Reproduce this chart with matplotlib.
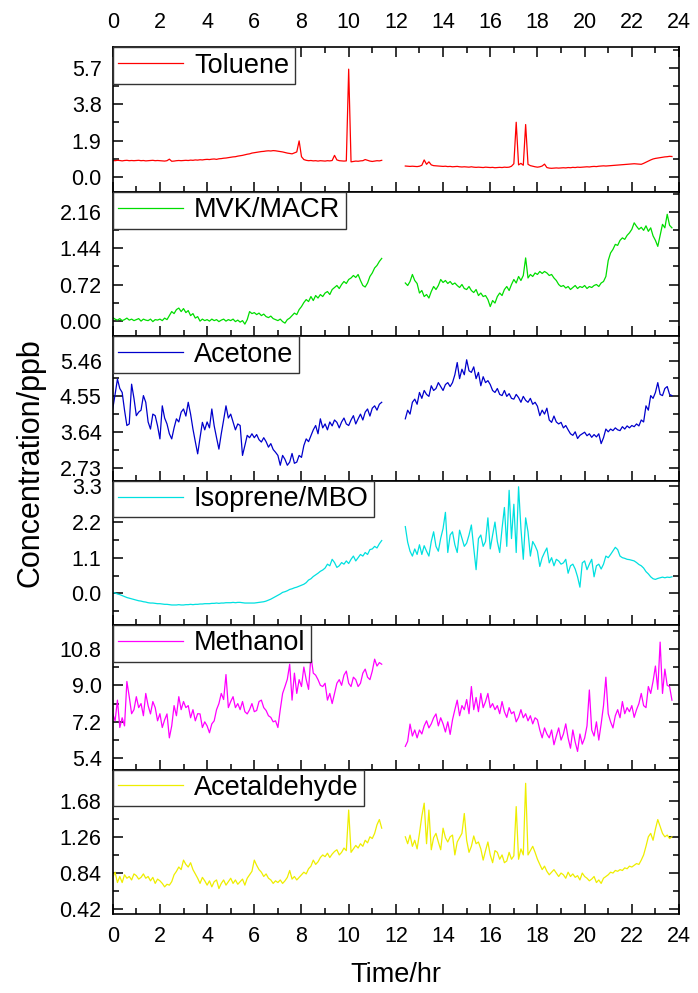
import numpy as np
import matplotlib.pyplot as plt
from matplotlib.ticker import MultipleLocator, FormatStrFormatter

plt.rcParams['font.family'] = ['Liberation Sans', 'DejaVu Sans']

# concentrations (ppb), one sample every 0.1 h, one row per hour
# morning run starts at 0.0 h, afternoon run starts at 12.4 h
toluene_am = [
    0.85, 0.84, 0.86, 0.85, 0.83, 0.85, 0.86, 0.84, 0.85, 0.84,
    0.85, 0.86, 0.84, 0.85, 0.83, 0.84, 0.85, 0.86, 0.84, 0.85,
    0.84, 0.83, 0.82, 0.84, 0.92, 0.81, 0.82, 0.84, 0.85, 0.84,
    0.85, 0.86, 0.85, 0.87, 0.86, 0.88, 0.87, 0.89, 0.88, 0.90,
    0.91, 0.90, 0.92, 0.93, 0.91, 0.94, 0.95, 0.97, 0.98, 1.00,
    1.02, 1.04, 1.05, 1.08, 1.10, 1.12, 1.15, 1.18, 1.20, 1.24,
    1.26, 1.28, 1.30, 1.32, 1.33, 1.35, 1.36, 1.35, 1.37, 1.36,
    1.34, 1.32, 1.30, 1.27, 1.24, 1.22, 1.20, 1.25, 1.30, 1.88,
    1.05, 0.90, 0.86, 0.84, 0.85, 0.83, 0.84, 0.82, 0.84, 0.83,
    0.82, 0.84, 0.83, 0.85, 1.12, 0.88, 0.84, 0.83, 0.82, 0.83,
    5.65, 0.78, 0.80, 0.82, 0.81, 0.83, 0.84, 0.90, 0.86, 0.82,
    0.80, 0.82, 0.84, 0.83, 0.86]
toluene_pm = [
    0.56, 0.55, 0.54, 0.55, 0.54, 0.53,
    0.55, 0.60, 0.88, 0.65, 0.78, 0.62, 0.58, 0.57, 0.56, 0.55,
    0.54, 0.55, 0.53, 0.54, 0.52, 0.53, 0.54, 0.52, 0.51, 0.52,
    0.51, 0.50, 0.52, 0.50, 0.49, 0.50, 0.49, 0.48, 0.50, 0.49,
    0.48, 0.49, 0.47, 0.48, 0.49, 0.48, 0.50, 0.49, 0.50, 0.55,
    0.68, 2.86, 0.62, 0.70, 0.60, 2.74, 0.65, 0.58, 0.55, 0.52,
    0.50, 0.52, 0.56, 0.66, 0.48, 0.45, 0.44, 0.45, 0.46, 0.45,
    0.46, 0.47, 0.46, 0.48, 0.47, 0.49, 0.48, 0.50, 0.49, 0.50,
    0.51, 0.52, 0.51, 0.53, 0.54, 0.53, 0.55, 0.56, 0.57, 0.56,
    0.57, 0.58, 0.59, 0.60, 0.61, 0.62, 0.63, 0.64, 0.65, 0.66,
    0.67, 0.68, 0.67, 0.66, 0.65, 0.70, 0.76, 0.82, 0.88, 0.93,
    0.96, 0.98, 1.00, 1.02, 1.04, 1.05, 1.07, 1.06]

mvk_am = [
    0.06, 0.03, 0.01, 0.04, 0.00, 0.02, 0.05, 0.01, 0.03, 0.00,
    0.02, 0.04, -0.01, 0.03, 0.01, 0.00, 0.03, -0.02, 0.02, 0.01,
    0.03, 0.00, 0.05, 0.02, 0.10, 0.18, 0.14, 0.22, 0.25, 0.18,
    0.24, 0.16, 0.20, 0.10, 0.14, 0.05, 0.08, -0.01, 0.03, 0.00,
    0.02, -0.01, 0.03, 0.00, 0.02, -0.02, 0.01, 0.03, -0.01, 0.02,
    0.00, 0.03, -0.02, 0.01, -0.03, 0.00, -0.07, 0.02, 0.18, 0.14,
    0.16, 0.12, 0.15, 0.10, 0.13, 0.08, 0.06, 0.09, 0.04, 0.02,
    0.00, 0.03, -0.02, -0.05, 0.02, 0.05, 0.10, 0.15, 0.12, 0.22,
    0.28, 0.36, 0.42, 0.38, 0.48, 0.40, 0.50, 0.45, 0.52, 0.48,
    0.55, 0.58, 0.52, 0.62, 0.66, 0.70, 0.64, 0.72, 0.78, 0.74,
    0.82, 0.85, 0.90, 0.86, 0.92, 0.80, 0.70, 0.67, 0.75, 0.88,
    0.95, 1.05, 1.10, 1.18, 1.24]
mvk_pm = [
    0.75, 0.70, 0.78, 0.92, 0.80, 0.74,
    0.55, 0.60, 0.48, 0.52, 0.45, 0.58, 0.68, 0.62, 0.70, 0.82,
    0.76, 0.80, 0.74, 0.78, 0.72, 0.75, 0.70, 0.66, 0.72, 0.64,
    0.62, 0.68, 0.60, 0.56, 0.62, 0.50, 0.55, 0.48, 0.50, 0.42,
    0.28, 0.40, 0.35, 0.48, 0.55, 0.50, 0.62, 0.68, 0.60, 0.72,
    0.82, 0.75, 0.88, 0.80, 0.90, 1.25, 0.85, 0.92, 0.88, 0.95,
    0.92, 0.98, 0.94, 0.98, 0.95, 0.90, 0.92, 0.85, 0.80, 0.72,
    0.68, 0.70, 0.65, 0.68, 0.62, 0.66, 0.70, 0.64, 0.68, 0.66,
    0.70, 0.64, 0.68, 0.66, 0.70, 0.72, 0.68, 0.75, 0.78, 0.88,
    1.20, 1.35, 1.42, 1.52, 1.50, 1.60, 1.65, 1.62, 1.70, 1.75,
    1.82, 1.95, 1.88, 1.82, 1.86, 1.80, 1.89, 1.78, 1.85, 1.69,
    1.60, 1.48, 1.70, 1.92, 1.85, 2.12, 1.90, 1.85]

acetone_am = [
    4.23, 4.60, 4.99, 4.75, 4.65, 4.20, 3.81, 3.85, 4.86, 4.50,
    4.06, 4.15, 4.20, 4.57, 4.40, 3.90, 3.72, 4.10, 4.06, 3.80,
    3.47, 4.31, 4.00, 3.85, 3.60, 3.47, 3.75, 3.98, 3.90, 4.15,
    4.23, 4.05, 4.40, 4.10, 3.72, 3.40, 3.09, 3.50, 3.89, 3.70,
    3.90, 3.75, 4.23, 3.80, 3.50, 3.21, 3.60, 3.95, 4.31, 4.00,
    4.10, 3.90, 3.70, 3.85, 3.81, 3.05, 3.30, 3.56, 3.50, 3.60,
    3.50, 3.58, 3.45, 3.39, 3.50, 3.40, 3.26, 3.35, 3.20, 3.13,
    3.05, 2.80, 3.05, 2.95, 2.80, 2.88, 3.10, 2.85, 2.88, 3.05,
    3.00, 3.30, 3.47, 3.40, 3.55, 3.70, 3.81, 3.60, 3.98, 3.75,
    3.85, 3.70, 3.90, 3.80, 3.95, 3.89, 3.75, 3.90, 4.00, 3.85,
    3.81, 3.95, 4.06, 3.85, 3.98, 4.10, 3.95, 4.15, 4.23, 4.05,
    4.25, 4.31, 4.20, 4.35, 4.40]
acetone_pm = [
    3.98, 4.20, 4.10, 4.40, 4.48, 4.35,
    4.65, 4.50, 4.70, 4.60, 4.55, 4.82, 4.70, 4.75, 4.90, 4.80,
    4.70, 4.85, 4.90, 4.80, 4.90, 5.10, 5.41, 5.00, 5.24, 5.10,
    5.48, 5.20, 5.16, 5.30, 5.00, 5.16, 4.82, 5.05, 4.90, 4.95,
    4.85, 4.70, 4.65, 4.75, 4.60, 4.57, 4.70, 4.55, 4.62, 4.50,
    4.48, 4.60, 4.52, 4.40, 4.55, 4.45, 4.40, 4.50, 4.35, 4.40,
    4.30, 4.06, 4.20, 4.10, 4.25, 3.95, 3.89, 4.05, 3.90, 3.85,
    3.89, 3.75, 3.81, 3.70, 3.60, 3.56, 3.65, 3.48, 3.56, 3.60,
    3.64, 3.55, 3.60, 3.51, 3.58, 3.52, 3.60, 3.35, 3.50, 3.72,
    3.65, 3.72, 3.68, 3.75, 3.70, 3.68, 3.78, 3.72, 3.80, 3.75,
    3.81, 3.78, 3.85, 3.80, 3.95, 3.90, 4.31, 4.20, 4.57, 4.50,
    4.65, 4.90, 4.60, 4.57, 4.75, 4.80, 4.60, 4.57]

isoprene_am = [
    0.03, 0.01, -0.02, -0.04, -0.07, -0.10, -0.13, -0.15, -0.17, -0.19,
    -0.21, -0.23, -0.24, -0.26, -0.27, -0.29, -0.30, -0.30, -0.31, -0.32,
    -0.32, -0.33, -0.34, -0.34, -0.35, -0.36, -0.36, -0.36, -0.35, -0.36,
    -0.36, -0.35, -0.35, -0.34, -0.35, -0.34, -0.34, -0.33, -0.33, -0.32,
    -0.32, -0.32, -0.31, -0.31, -0.30, -0.31, -0.30, -0.30, -0.29, -0.29,
    -0.29, -0.28, -0.29, -0.28, -0.28, -0.29, -0.30, -0.30, -0.30, -0.30,
    -0.30, -0.29, -0.28, -0.27, -0.26, -0.24, -0.21, -0.18, -0.14, -0.10,
    -0.06, -0.02, 0.03, 0.05, 0.08, 0.12, 0.14, 0.17, 0.19, 0.22,
    0.25, 0.28, 0.33, 0.41, 0.45, 0.52, 0.57, 0.62, 0.68, 0.72,
    0.78, 0.90, 0.85, 1.05, 0.95, 0.80, 0.85, 0.95, 0.90, 1.00,
    0.92, 1.05, 1.15, 1.00, 1.10, 1.20, 1.15, 1.26, 1.20, 1.35,
    1.37, 1.45, 1.40, 1.53, 1.63]
isoprene_pm = [
    2.06, 1.58, 1.30, 1.15, 1.37, 1.20,
    1.50, 1.20, 1.47, 1.30, 1.15, 1.60, 1.90, 1.45, 1.30, 1.70,
    2.00, 2.50, 1.26, 1.80, 1.90, 1.50, 1.26, 1.95, 1.70, 1.45,
    1.55, 1.80, 2.11, 1.40, 0.73, 1.69, 1.80, 1.45, 1.60, 2.33,
    1.37, 1.80, 2.20, 1.60, 1.26, 2.00, 2.65, 1.45, 3.18, 1.69,
    2.75, 1.26, 3.29, 2.00, 1.05, 2.33, 1.90, 1.15, 1.60, 1.47,
    1.30, 0.83, 1.10, 1.26, 1.40, 0.94, 1.10, 0.85, 1.05, 1.00,
    0.90, 0.94, 1.05, 0.62, 0.85, 0.90, 0.75, 0.51, 0.19, 0.94,
    1.00, 0.73, 0.90, 1.05, 0.51, 0.85, 0.90, 0.75, 0.90, 1.15,
    1.10, 1.20, 1.31, 1.42, 1.35, 1.15, 1.10, 1.08, 1.05, 1.04,
    1.02, 1.00, 0.95, 0.89, 0.85, 0.78, 0.67, 0.60, 0.51, 0.45,
    0.43, 0.46, 0.48, 0.50, 0.48, 0.50, 0.49, 0.51]

methanol_am = [
    7.59, 7.25, 8.27, 6.92, 7.40, 7.00, 9.19, 8.44, 7.60, 7.80,
    8.44, 7.90, 8.10, 7.50, 8.60, 8.00, 7.59, 8.20, 7.90, 7.25,
    7.60, 6.92, 7.30, 7.59, 6.41, 7.00, 8.00, 7.50, 8.44, 7.80,
    8.20, 7.90, 8.00, 7.40, 7.80, 7.25, 7.60, 7.59, 6.92, 7.20,
    7.00, 6.66, 7.10, 7.25, 7.80, 8.10, 8.60, 8.30, 9.53, 7.90,
    8.20, 8.44, 7.90, 8.10, 7.80, 8.20, 7.70, 7.59, 7.80, 8.10,
    7.70, 7.76, 8.20, 8.27, 7.90, 7.76, 7.50, 7.42, 7.20, 7.25,
    6.92, 7.80, 8.60, 8.94, 9.30, 10.04, 8.27, 9.60, 8.60, 9.28,
    8.94, 9.90, 9.28, 8.80, 10.46, 9.60, 9.50, 9.28, 9.00, 8.94,
    9.10, 8.27, 8.60, 8.10, 8.60, 9.10, 9.28, 9.00, 9.50, 9.70,
    9.10, 8.94, 9.40, 9.28, 8.94, 9.10, 9.60, 9.80, 9.40, 9.28,
    9.70, 10.29, 9.95, 10.12, 10.04]
methanol_pm = [
    5.99, 6.24, 7.09, 6.50, 6.80, 6.41,
    6.80, 6.60, 7.00, 7.25, 6.90, 7.10, 7.40, 7.59, 7.00, 7.40,
    7.10, 6.70, 7.20, 6.58, 7.30, 7.80, 8.27, 7.50, 8.00, 7.80,
    8.30, 7.60, 8.94, 7.80, 8.40, 7.70, 8.60, 7.90, 8.20, 8.60,
    7.90, 8.10, 7.80, 8.00, 7.60, 8.20, 7.70, 7.42, 7.90, 7.60,
    7.70, 7.20, 7.42, 7.80, 7.40, 7.60, 7.25, 7.50, 7.10, 7.40,
    7.30, 6.80, 6.41, 6.90, 6.60, 6.41, 6.80, 6.07, 6.50, 6.90,
    6.30, 6.60, 7.10, 6.40, 5.90, 6.80, 6.20, 5.74, 6.60, 6.10,
    6.40, 7.00, 8.77, 6.80, 6.50, 7.20, 6.30, 7.10, 8.00, 9.40,
    7.60, 7.20, 6.90, 7.50, 7.80, 7.40, 8.20, 7.60, 7.90, 7.70,
    8.00, 7.42, 7.80, 8.10, 8.60, 8.00, 7.90, 8.94, 8.60, 9.20,
    9.95, 8.80, 11.13, 8.60, 9.80, 9.00, 8.94, 8.27]

acetaldehyde_am = [
    0.79, 0.85, 0.73, 0.80, 0.73, 0.82, 0.78, 0.80, 0.76, 0.83,
    0.81, 0.77, 0.79, 0.83, 0.78, 0.80, 0.75, 0.79, 0.72, 0.77,
    0.75, 0.72, 0.68, 0.71, 0.70, 0.74, 0.82, 0.86, 0.91, 0.88,
    0.99, 0.94, 0.91, 0.96, 0.88, 0.83, 0.78, 0.72, 0.79, 0.75,
    0.70, 0.75, 0.68, 0.74, 0.76, 0.66, 0.72, 0.76, 0.70, 0.74,
    0.78, 0.72, 0.76, 0.71, 0.74, 0.77, 0.70, 0.78, 0.82, 0.86,
    0.99, 0.93, 0.88, 0.85, 0.80, 0.83, 0.78, 0.76, 0.72, 0.75,
    0.73, 0.76, 0.72, 0.75, 0.79, 0.87, 0.77, 0.80, 0.76, 0.79,
    0.82, 0.85, 0.83, 0.89, 0.92, 0.99, 0.94, 0.97, 1.02, 1.05,
    1.03, 1.07, 1.02, 1.06, 1.09, 1.11, 1.05, 1.08, 1.13, 1.10,
    1.57, 1.08, 1.12, 1.16, 1.13, 1.18, 1.15, 1.22, 1.19, 1.26,
    1.24, 1.30, 1.40, 1.46, 1.36]
acetaldehyde_pm = [
    1.26, 1.18, 1.28, 1.15, 1.22, 1.12,
    1.30, 1.50, 1.65, 1.18, 1.57, 1.11, 1.25, 1.30, 1.20, 1.11,
    1.36, 1.25, 1.20, 1.26, 1.28, 1.05, 1.20, 1.25, 1.30, 1.53,
    1.22, 1.08, 1.15, 1.27, 1.18, 1.20, 1.12, 0.99, 1.10, 1.20,
    1.05, 0.96, 1.10, 1.08, 1.00, 1.05, 0.96, 0.98, 1.08, 1.00,
    1.04, 1.61, 1.00, 1.12, 1.05, 1.88, 1.05, 1.10, 1.15, 1.08,
    1.00, 0.94, 0.88, 0.92, 0.86, 0.82, 0.85, 0.88, 0.84, 0.80,
    0.84, 0.82, 0.78, 0.85, 0.80, 0.83, 0.79, 0.81, 0.76, 0.84,
    0.80, 0.78, 0.75, 0.77, 0.80, 0.73, 0.76, 0.72, 0.78, 0.80,
    0.82, 0.85, 0.84, 0.87, 0.86, 0.88, 0.87, 0.90, 0.89, 0.92,
    0.91, 0.93, 0.95, 0.94, 0.99, 1.05, 1.15, 1.26, 1.30, 1.22,
    1.35, 1.46, 1.38, 1.30, 1.26, 1.28, 1.24, 1.26]

names = ['Toluene', 'MVK/MACR', 'Acetone', 'Isoprene/MBO', 'Methanol', 'Acetaldehyde']
series = [(toluene_am, toluene_pm), (mvk_am, mvk_pm), (acetone_am, acetone_pm),
          (isoprene_am, isoprene_pm), (methanol_am, methanol_pm),
          (acetaldehyde_am, acetaldehyde_pm)]
yticks = [[0.0, 1.9, 3.8, 5.7], [0.0, 0.72, 1.44, 2.16], [2.73, 3.64, 4.55, 5.46],
          [0.0, 1.1, 2.2, 3.3], [5.4, 7.2, 9.0, 10.8], [0.42, 0.84, 1.26, 1.68]]
xticks = list(range(0, 25, 2))

colors = ['#ff0000', '#00dd00', '#0000cc', '#00e0e0', '#ff00ff', '#eeee00']
ylims = [(-0.79, 6.8), (-0.31, 2.57), (2.41, 6.08), (-0.98, 3.48), (4.85, 11.97), (0.366, 2.04)]
fmts = ['%.1f', '%.2f', '%.2f', '%.1f', '%.1f', '%.2f']

fig, axes = plt.subplots(6, 1, figsize=(6.98, 9.93), dpi=100)
fig.subplots_adjust(left=0.1615, right=0.9728, top=0.9524, bottom=0.0796, hspace=0)

for i, ax in enumerate(axes):
    am, pm = series[i]
    t_am = 0.0 + 0.1 * np.arange(len(am))
    t_pm = 12.4 + 0.1 * np.arange(len(pm))
    ax.plot(t_am, am, color=colors[i], lw=0.9, label=names[i])
    ax.plot(t_pm, pm, color=colors[i], lw=0.9)

    ax.set_xlim(0, 24)
    ax.set_ylim(*ylims[i])
    ax.set_xticks(xticks)
    ax.xaxis.set_minor_locator(MultipleLocator(1))
    ax.set_yticks(yticks[i])
    step = yticks[i][1] - yticks[i][0]
    ax.yaxis.set_minor_locator(MultipleLocator(step / 2))
    ax.yaxis.set_major_formatter(FormatStrFormatter(fmts[i]))

    ax.tick_params(which='both', direction='in', left=True, right=True,
                   top=(i == 0), bottom=True, labeltop=(i == 0),
                   labelbottom=(i == 5), labelsize=15.5, width=1.1)
    ax.tick_params(which='major', length=7.5)
    ax.tick_params(which='minor', length=4)
    ax.tick_params(axis='y', pad=8)
    ax.tick_params(axis='x', which='major', pad=9)
    if i == 0:
        ax.xaxis.set_tick_params(which='major', pad=10)
    for s in ax.spines.values():
        s.set_linewidth(1.2)

    leg = ax.legend(loc='upper left', fontsize=19.5, frameon=True, fancybox=False,
                    edgecolor='#333333', framealpha=1, borderaxespad=0,
                    borderpad=0.2, handlelength=2.4, handletextpad=0.4)
    leg.get_frame().set_linewidth(1.0)
    leg.set_zorder(5)

fig.text(0.043, 0.534, 'Concentration/ppb', rotation=90, ha='center', va='center', fontsize=22)
fig.text(0.567, 0.018, 'Time/hr', ha='center', va='center', fontsize=19.5)

plt.savefig('out.png', dpi=100)
